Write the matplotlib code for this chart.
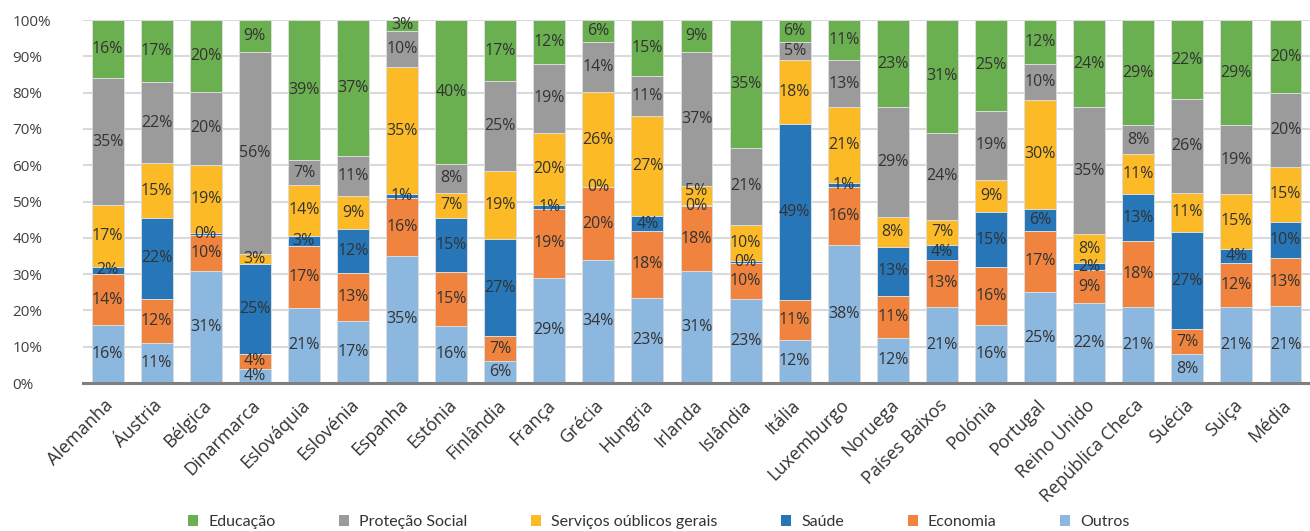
import numpy as np
import matplotlib
matplotlib.use("Agg")
import matplotlib.pyplot as plt
from matplotlib.transforms import ScaledTranslation

plt.rcParams['font.family'] = ['Open Sans', 'DejaVu Sans']

countries = ["Alemanha", "Áustria", "Bélgica", "Dinarmarca", "Eslováquia", "Eslovénia",
             "Espanha", "Estónia", "Finlândia", "França", "Grécia", "Hungria", "Irlanda",
             "Islândia", "Itália", "Luxemburgo", "Noruega", "Países Baixos", "Polónia",
             "Portugal", "Reino Unido", "República Checa", "Suécia", "Suiça", "Média"]

outros    = [16, 11, 31, 4, 21, 17, 35, 16, 6, 29, 34, 23, 31, 23, 12, 38, 12, 21, 16, 25, 22, 21, 8, 21, 21]
economia  = [14, 12, 10, 4, 17, 13, 16, 15, 7, 19, 20, 18, 18, 10, 11, 16, 11, 13, 16, 17, 9, 18, 7, 12, 13]
saude     = [2, 22, 0.4, 25, 3, 12, 1, 15, 27, 1, 0.2, 4, 0.2, 0.4, 49, 1, 13, 4, 15, 6, 2, 13, 27, 4, 10]
servicos  = [17, 15, 19, 3, 14, 9, 35, 7, 19, 20, 26, 27, 5.4, 10, 18, 21, 8, 7, 9, 30, 8, 11, 11, 15, 15]
protecao  = [35, 22, 20, 56, 7, 11, 10, 8, 25, 19, 14, 11, 37, 21, 5, 13, 29, 24, 19, 10, 35, 8, 26, 19, 20]
educacao  = [16, 17, 20, 9, 39, 37, 3, 40, 17, 12, 6, 15, 9, 35, 6, 11, 23, 31, 25, 12, 24, 29, 22, 29, 20]

series = [
    ("Outros", outros, "#8CB8E0"),
    ("Economia", economia, "#F0843E"),
    ("Saúde", saude, "#2676B8"),
    ("Serviços oúblicos gerais", servicos, "#FCBA26"),
    ("Proteção Social", protecao, "#9B9B9B"),
    ("Educação", educacao, "#6BB050"),
]

yticks = [0, 10, 20, 30, 40, 50, 60, 70, 80, 90, 100]

fig = plt.figure(figsize=(13.1, 5.31), dpi=100)
ax = fig.add_axes([0.0634, 0.2787, 0.9366, 0.6836])

x = np.arange(len(countries))
raw = np.array([s[1] for s in series], dtype=float)
totals = raw.sum(axis=0)
shares = raw / totals * 100

# minimum vertical gap (in % units) between stacked value labels of one bar
min_gap = 4.2
bottom = np.zeros(len(countries))
last_label = np.full(len(countries), -100.0)
handles = {}
for (name, vals, color), sh in zip(series, shares):
    bars = ax.bar(x, sh, 0.65, bottom=bottom, color=color, edgecolor="#DCDCDC",
                  linewidth=0.7, zorder=3, label=name)
    handles[name] = bars
    for i, (xi, b, h, v) in enumerate(zip(x, bottom, sh, vals)):
        ypos = max(b + h / 2, last_label[i] + min_gap)
        last_label[i] = ypos
        ax.text(xi, ypos, f"{v:.0f}%", ha="center", va="center",
                fontsize=11.5, color="#333333", zorder=5)
    bottom += sh

ax.set_xlim(-0.5, len(countries) - 0.5)
ax.set_ylim(0, 100)
ax.set_yticks(yticks)
ax.set_yticklabels([f"{t}%" for t in yticks], fontsize=11, color="#404040")
for lbl in ax.get_yticklabels():
    lbl.set_horizontalalignment("left")
ax.tick_params(axis="y", length=0, pad=51)
ax.yaxis.grid(True, color="#D9D9D9", linewidth=1.5, zorder=0)
ax.set_axisbelow(True)

ax.set_xticks(x)
ax.set_xticklabels(countries, rotation=45, ha="right", va="center",
                   rotation_mode="anchor", fontsize=13, color="#333333")
ax.tick_params(axis="x", length=0, pad=14)
shift = ScaledTranslation(3 / 100, 0, fig.dpi_scale_trans)
for lbl in ax.get_xticklabels():
    lbl.set_transform(lbl.get_transform() + shift)

for side in ["top", "right", "left"]:
    ax.spines[side].set_visible(False)
ax.spines["bottom"].set_color("#7F7F7F")
ax.spines["bottom"].set_linewidth(2.2)
ax.spines["bottom"].set_zorder(6)

order = ["Educação", "Proteção Social", "Serviços oúblicos gerais", "Saúde", "Economia", "Outros"]
leg = fig.legend([handles[n] for n in order], order, loc="center", ncol=6,
                 bbox_to_anchor=(0.503, 0.017), frameon=False,
                 prop={"family": ["Lato", "DejaVu Sans"], "size": 11.5},
                 handlelength=0.62, handleheight=0.62, handletextpad=0.62,
                 columnspacing=4.0, labelcolor="#333333")
for h in leg.legend_handles:
    h.set_edgecolor("none")

fig.savefig("out.png", dpi=100)
